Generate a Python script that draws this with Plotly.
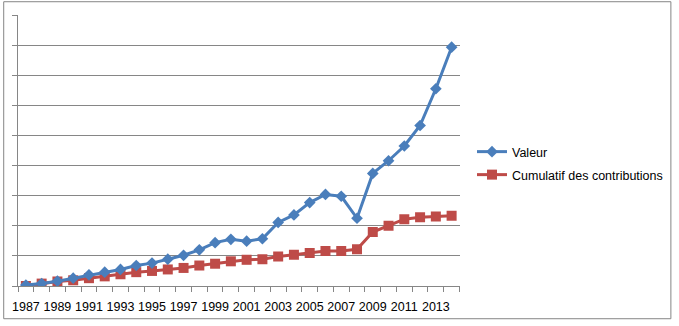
import plotly.graph_objects as go

years = list(range(1987, 2015))
valeur = [0.03, 0.08, 0.16, 0.26, 0.37, 0.46, 0.55, 0.68, 0.76, 0.89, 1.02, 1.20, 1.44,
          1.55, 1.49, 1.57, 2.11, 2.36, 2.77, 3.04, 2.98, 2.25, 3.74, 4.16, 4.65, 5.33,
          6.55, 7.93]
cumul = [0.0, 0.08, 0.15, 0.19, 0.26, 0.32, 0.39, 0.46, 0.50, 0.55, 0.60, 0.68, 0.74,
         0.82, 0.87, 0.89, 0.98, 1.04, 1.10, 1.16, 1.16, 1.22, 1.79, 2.00, 2.22, 2.28,
         2.31, 2.33]
label_years = list(range(1987, 2015, 2))

W, H = 679, 326
L, R, T, B = 12.5, 218.5, 15, 35.3
pw, ph = W - L - R, H - T - B

fig = go.Figure()
fig.add_trace(go.Scatter(
    x=years, y=cumul, name="Cumulatif des contributions", mode="lines+markers",
    line=dict(color="#BE4B48", width=3),
    marker=dict(symbol="square", size=10, color="#BE4B48"),
    legend="legend2"))
fig.add_trace(go.Scatter(
    x=years, y=valeur, name="Valeur", mode="lines+markers",
    line=dict(color="#4A7EBB", width=3),
    marker=dict(symbol="diamond", size=9, color="#4A7EBB"),
    legend="legend"))

font = dict(family="Liberation Sans, Arial, sans-serif", size=12, color="#000000")

fig.update_layout(
    width=W, height=H,
    margin=dict(l=L, r=R, t=T, b=B, pad=0),
    paper_bgcolor="white", plot_bgcolor="white",
    font=font,
    showlegend=True,
    legend=dict(xref="container", yref="container", x=472 / W, y=1 - 137 / H,
                xanchor="left", yanchor="top", font=dict(size=12.5),
                bgcolor="rgba(0,0,0,0)", itemwidth=30),
    legend2=dict(xref="container", yref="container", x=472 / W, y=1 - 160 / H,
                 xanchor="left", yanchor="top", font=dict(size=12.5),
                 bgcolor="rgba(0,0,0,0)", itemwidth=30),
    xaxis=dict(range=[1986.5, 2014.5], tickmode="array", tickvals=label_years,
               ticktext=[str(y) for y in label_years], ticks="", showgrid=False,
               zeroline=False, showline=True, linecolor="#868686", linewidth=1,
               tickfont=dict(size=12.5), ticklabelstandoff=9,
               minor=dict(tickmode="array", tickvals=[y - 0.5 for y in years] + [2014.5],
                          ticks="outside", ticklen=5, tickcolor="#868686", showgrid=False)),
    yaxis=dict(range=[0, 9], dtick=1, showticklabels=False, ticks="outside", ticklen=5,
               tickcolor="#868686", showgrid=True, gridcolor="#868686", gridwidth=1,
               zeroline=False, showline=True, linecolor="#868686", linewidth=1),
)

fig.add_shape(type="rect", xref="paper", yref="paper",
              x0=(-2 - L) / pw, x1=(675 - L) / pw,
              y0=(H - B - 324) / ph, y1=(H - B - 1.5) / ph,
              line=dict(color="#868686", width=1), fillcolor="rgba(0,0,0,0)", layer="below")

fig.write_html("out.html")
